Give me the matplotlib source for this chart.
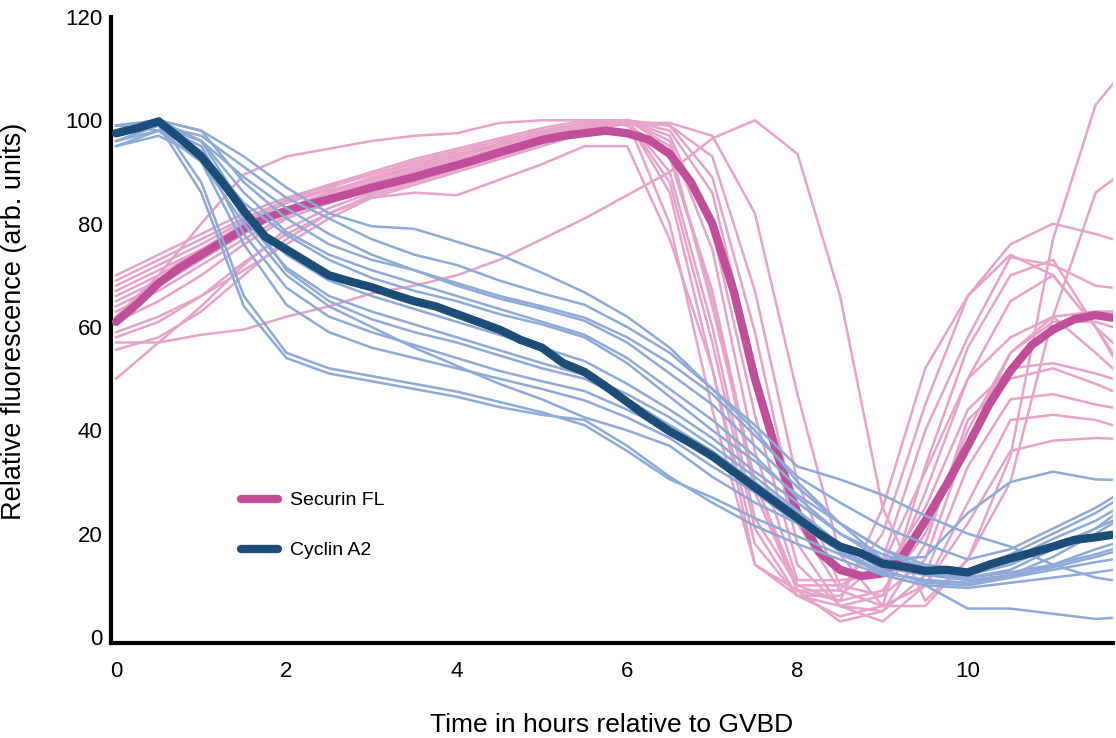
import matplotlib
matplotlib.use("Agg")
import matplotlib.pyplot as plt
from matplotlib.lines import Line2D

plt.rcParams['font.family'] = ['Liberation Sans', 'DejaVu Sans']

# ---- time grids (hours relative to GVBD) ----
hours_thin = [0, 0.5, 1, 1.5, 2, 2.5, 3, 3.5, 4, 4.5, 5, 5.5, 6, 6.5, 7, 7.5,
              8, 8.5, 9, 9.5, 10, 10.5, 11, 11.5, 11.7]
hours_mean = [0, 0.25, 0.5, 0.75, 1, 1.25, 1.5, 1.75, 2, 2.25, 2.5, 2.75, 3, 3.25,
              3.5, 3.75, 4, 4.25, 4.5, 4.75, 5, 5.25, 5.5, 5.75, 6, 6.25, 6.5, 6.75,
              7, 7.25, 7.5, 7.75, 8, 8.25, 8.5, 8.75, 9, 9.25, 9.5, 9.75, 10, 10.25,
              10.5, 10.75, 11, 11.25, 11.5, 11.7]

# ---- mean traces ----
securin_mean = [61, 64.5, 68.5, 71.5, 74, 76.5, 79, 81, 82.5, 83.7, 84.7, 85.8, 87, 88,
                89, 90.2, 91.3, 92.5, 93.8, 95, 96.2, 97, 97.5, 98, 97.5, 96.3, 93.5, 88,
                80, 67, 50, 36, 24, 16.5, 13, 11.8, 12.3, 16, 22.5, 29.5, 37, 45,
                51.5, 56.5, 59.5, 61.5, 62.3, 61.8]
cyclin_mean = [97.5, 98.5, 99.8, 96.5, 93, 88, 82.5, 77.5, 75, 72.5, 70, 68.8, 67.7, 66.3,
               65, 64, 62.5, 61, 59.5, 57.5, 56, 53, 51.3, 48.5, 45.5, 42.5, 39.8, 37.5,
               35, 32, 29, 26, 23, 20, 17.5, 16.2, 14.2, 13.6, 12.8, 13, 12.5, 14,
               15.2, 16.3, 17.5, 18.8, 19.3, 19.8]

# ---- individual Securin FL cells ----
securin_cells = [
    [62, 70, 80, 89.5, 93, 94.5, 96, 97, 97.5, 99.5, 100, 100, 99, 93, 67, 30, 9, 7, 25, 52, 66, 76, 80, 78, 77],
    [57, 57, 58.5, 59.5, 62, 64, 66.5, 68, 70, 73, 77, 81, 85.5, 90, 96.5, 100, 93.5, 66, 25, 7, 15, 35, 77, 103, 107],
    [66, 70, 75, 80, 84, 86.5, 88.5, 90.5, 92.5, 94.5, 96.5, 98.5, 99.5, 99.5, 97, 82, 47, 16, 6, 6, 15, 30, 62, 86, 88.5],
    [59, 62, 66, 71, 76, 81, 85, 86, 85.5, 88.5, 91.5, 95, 95, 77, 52, 14, 8, 8, 15, 40, 58, 73.5, 72, 68, 67.6],
    [70, 74, 78, 82, 85, 87.5, 89.5, 91.5, 93.5, 95.5, 97.5, 99.5, 100, 80, 44, 14, 9, 9, 20, 45, 66, 74, 70, 60, 57],
    [50, 57, 64, 72, 79, 83, 86, 88.5, 91, 93.5, 96, 98.5, 100, 86, 52, 18, 8, 6, 8, 28, 50, 65, 70, 60, 55],
    [68, 72, 76, 80.5, 84, 87, 89.5, 92, 94, 96, 98, 99.5, 100, 88, 57, 21, 8, 4, 6, 33, 56, 70, 73, 60, 54.4],
    [64, 68, 73, 78, 82.5, 85.5, 88, 90, 92, 94.5, 97, 99, 100, 90, 60, 23, 10, 10, 14, 32, 50, 58, 62, 55, 52],
    [55.6, 58, 63, 70, 77, 82, 85.5, 88, 90.5, 93, 95.5, 98, 99.5, 93, 66, 28, 9, 3, 5, 18, 42, 50, 52, 49, 47.6],
    [61, 65, 70, 76, 81, 84, 87, 89.5, 92, 94, 96.5, 99, 100, 95, 64, 30, 10, 7, 9, 20, 40, 55, 61, 61, 60],
    [67, 71, 75, 79, 83, 86, 88.5, 91, 93, 95.5, 97.5, 99.5, 100, 97, 79, 43, 14, 6, 5, 12, 33, 46, 47, 45, 44.4],
    [69, 73, 77, 81, 84.5, 87.5, 90, 92.5, 94.5, 96.5, 98.5, 100, 100, 98, 86, 52, 18, 6, 3, 10, 26, 42, 43, 42, 41],
    [63, 67, 72, 77, 81.5, 85, 87.5, 90, 92, 94, 96.5, 98.5, 100, 99, 89, 59, 22, 9, 6, 10, 22, 36, 38, 38.5, 38.4],
    [58, 61, 66, 72.5, 78, 82, 85, 87.5, 90, 92.5, 95, 97.5, 99.5, 99, 93, 67, 30, 10, 8, 15, 38, 55, 62, 63, 63],
    [65, 69, 74, 79, 83, 86, 89, 91, 93, 95, 97.5, 99.5, 100, 96, 75, 36, 11, 11, 12, 25, 44, 52, 53, 51, 50],
]

# ---- individual Cyclin A2 cells ----
cyclin_cells = [
    [99, 100, 98, 93, 87, 82, 79.5, 79, 76.5, 74, 70.5, 66.7, 62, 56, 48, 41, 33, 30.5, 27.5, 23.5, 20, 17.5, 14, 11.5, 11],
    [97, 99, 97, 91, 85, 81, 77, 74, 72, 69, 66.5, 64.3, 60, 55, 48, 40, 30, 22, 15, 15.5, 24, 30, 32, 30.5, 30.4],
    [98, 99, 96, 89, 83, 78, 74, 71, 68.5, 66, 64, 61.8, 58, 53, 47, 39, 31, 26, 21.4, 18, 15, 17, 21, 25, 27],
    [97, 100, 98, 88, 81, 76, 73, 71, 68, 65.5, 63.5, 61.2, 57, 51, 45, 37, 29, 22, 17, 14, 13, 16, 20, 24, 26],
    [96, 99, 96, 86, 78.4, 74, 71, 68.5, 66, 63.5, 61, 58.5, 54, 48, 42, 35, 27, 20, 16, 13.5, 12.5, 15, 19, 22.5, 24.4],
    [99, 98, 94, 84, 77.8, 73, 69.5, 67, 65, 62.5, 60.5, 58, 53, 46.5, 40, 34, 27.5, 22, 17, 13, 11.5, 13, 17, 21, 23.4],
    [95, 97, 93, 82, 74, 69, 66, 63.5, 61, 58.5, 56, 53.4, 49, 44, 38.5, 32, 26, 20, 15, 12, 11, 12, 15.5, 20, 22],
    [97, 99, 95, 81, 71.5, 66, 63, 60.5, 58, 55.5, 53, 50.7, 47, 42.5, 37, 31, 24.5, 18, 13.5, 12, 11.5, 12.5, 14, 16, 17],
    [98, 100, 96, 83, 71, 65, 61.5, 59, 57, 54.5, 52, 50, 46, 41, 36, 30, 23, 17, 12.5, 11, 10.5, 12, 13.5, 15.5, 16.4],
    [99, 100, 94, 78, 67.6, 62, 59, 56.5, 54, 51.5, 49.5, 47.6, 44, 40, 35, 30, 24, 18, 13, 10.5, 10, 11.5, 13, 14.5, 15],
    [96, 98, 92, 76, 64.3, 59, 56, 54, 52, 50, 48, 45.8, 42.5, 38.5, 33, 28, 22, 16.5, 12, 10, 9.5, 10.5, 11.5, 12.5, 13],
    [98, 99, 86, 64, 54, 51, 49.5, 48, 46.5, 44.5, 43, 42, 37, 31, 26, 21.5, 18, 15, 12, 10, 5.5, 5.5, 4.5, 3.5, 3.7],
    [97, 100, 88, 66, 55, 52, 50.5, 49, 47.5, 45.5, 43.5, 41, 36, 30.5, 27, 23, 19.5, 16, 12.5, 11, 10.5, 11.5, 14, 17, 18],
    [95, 98, 92, 80, 70, 64, 60, 56, 52.5, 49, 46, 42.5, 40, 37, 31, 26, 22, 18, 14, 12.5, 12, 14, 17.5, 21, 22.5],
]

series_labels = ["Securin FL", "Cyclin A2"]
y_ticks = [0, 20, 40, 60, 80, 100, 120]
x_ticks = [0, 2, 4, 6, 8, 10]

pink_thin = "#E7A3C9"
pink_thick = "#C04E9A"
blue_thin = "#8DAAD8"
blue_thick = "#1B4D79"

fig = plt.figure(figsize=(11.16, 7.38), dpi=100)
ax = fig.add_axes([0.0995, 0.1287, 0.8975, 0.8483])

for cell in securin_cells:
    ax.plot(hours_thin, cell, color=pink_thin, lw=1.8, zorder=2)
ax.plot(hours_mean, securin_mean, color=pink_thick, lw=6, zorder=3,
        solid_capstyle='round', solid_joinstyle='round')
for cell in cyclin_cells:
    ax.plot(hours_thin, cell, color=blue_thin, lw=1.8, zorder=4)
ax.plot(hours_mean, cyclin_mean, color=blue_thick, lw=6, zorder=5,
        solid_capstyle='round', solid_joinstyle='round')

ax.set_xlim(-0.059, 11.70)
ax.set_ylim(-1.16, 120)
ax.set_xticks(x_ticks)
ax.set_yticks(y_ticks)
ax.tick_params(axis='both', length=0, labelsize=16)
ax.tick_params(axis='x', pad=13)
ax.tick_params(axis='y', pad=6)

for side in ['top', 'right']:
    ax.spines[side].set_visible(False)
for side in ['left', 'bottom']:
    ax.spines[side].set_linewidth(3)
    ax.spines[side].set_color('black')

ax.set_xlabel("Time in hours relative to GVBD", fontsize=19, labelpad=22)
ax.set_ylabel("Relative fluorescence (arb. units)", fontsize=19.5)
ax.yaxis.set_label_coords(-0.084, 0.514)

handles = [Line2D([0], [0], color=pink_thick, lw=6, solid_capstyle='round'),
           Line2D([0], [0], color=blue_thick, lw=6, solid_capstyle='round')]
ax.legend(handles, series_labels, loc='upper left', bbox_to_anchor=(0.120, 0.257),
          frameon=False, fontsize=14, handlelength=1.9, handletextpad=0.6,
          labelspacing=1.66, borderpad=0)

fig.savefig("out.png", dpi=100)
